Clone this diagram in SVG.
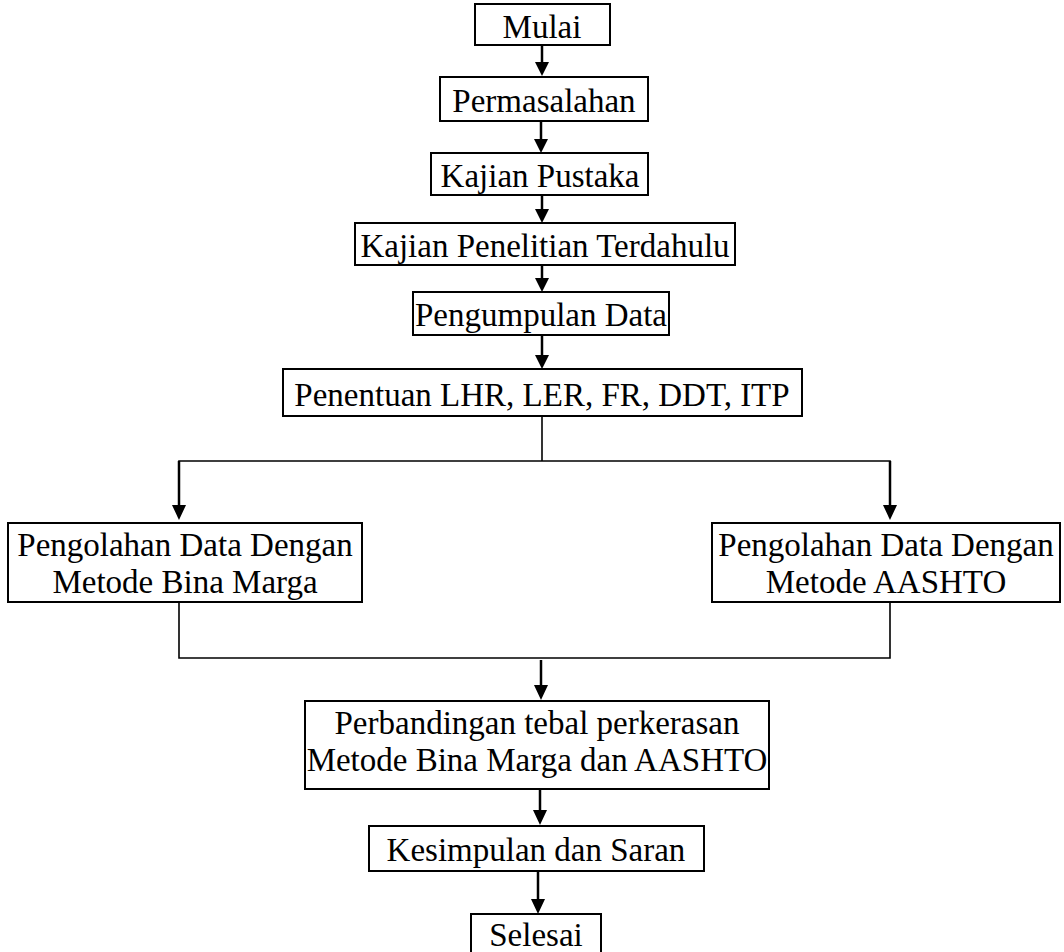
<svg xmlns="http://www.w3.org/2000/svg" width="1064" height="952" viewBox="0 0 1064 952">
<defs>
<style>
.box{fill:#fff;stroke:#000;stroke-width:2}
.t{font-family:"Liberation Serif","Times New Roman",serif;font-size:33px;fill:#000;text-anchor:middle}
.a{stroke:#000;stroke-width:2.5;fill:none}
.l{stroke:#000;stroke-width:1.6;fill:none}
.h{fill:#000}
</style>
</defs>
<rect width="1064" height="952" fill="#fff"/>
<g id="connectors">
<line class="a" x1="542" y1="45" x2="542" y2="62"/>
<path class="h" d="M535,62 L549,62 L542,76 Z"/>
<line class="a" x1="541" y1="121" x2="541" y2="139"/>
<path class="h" d="M534,139 L548,139 L541,153 Z"/>
<line class="a" x1="542" y1="195" x2="542" y2="209"/>
<path class="h" d="M535,209 L549,209 L542,223 Z"/>
<line class="a" x1="542" y1="265" x2="542" y2="278"/>
<path class="h" d="M535,278 L549,278 L542,292 Z"/>
<line class="a" x1="542" y1="335" x2="542" y2="355"/>
<path class="h" d="M535,355 L549,355 L542,369 Z"/>
<polyline class="l" points="542,416 542,461"/>
<polyline class="l" points="179,470 179,461 890,461 890,470"/>
<line class="a" x1="179" y1="461" x2="179" y2="506"/>
<path class="h" d="M172,505 L186,505 L179,520 Z"/>
<line class="a" x1="890" y1="461" x2="890" y2="506"/>
<path class="h" d="M883,505 L897,505 L890,520 Z"/>
<polyline class="l" points="179,602 179,658 890,658 890,602"/>
<line class="a" x1="541" y1="660" x2="541" y2="686"/>
<path class="h" d="M534,685 L548,685 L541,700 Z"/>
<line class="a" x1="540" y1="789" x2="540" y2="811"/>
<path class="h" d="M533,810 L547,810 L540,825 Z"/>
<line class="a" x1="538" y1="871" x2="538" y2="900"/>
<path class="h" d="M531,899 L545,899 L538,914 Z"/>
</g>
<g id="mulai"><rect class="box" x="475" y="4" width="135" height="41"/><text class="t" x="542" y="38">Mulai</text></g>
<g id="permasalahan"><rect class="box" x="440" y="77" width="208" height="44"/><text class="t" x="544" y="112">Permasalahan</text></g>
<g id="kajian-pustaka"><rect class="box" x="431" y="153" width="217" height="42"/><text class="t" x="540" y="187">Kajian Pustaka</text></g>
<g id="kajian-penelitian"><rect class="box" x="355" y="223" width="380" height="42"/><text class="t" x="545" y="257">Kajian Penelitian Terdahulu</text></g>
<g id="pengumpulan"><rect class="box" x="413" y="292" width="256" height="43"/><text class="t" x="541" y="326">Pengumpulan Data</text></g>
<g id="penentuan"><rect class="box" x="283" y="369" width="519" height="47"/><text class="t" x="542" y="406">Penentuan LHR, LER, FR, DDT, ITP</text></g>
<g id="bina-marga"><rect class="box" x="8" y="523" width="354" height="79"/><text class="t" x="185" y="556">Pengolahan Data Dengan</text><text class="t" x="185" y="593">Metode Bina Marga</text></g>
<g id="aashto"><rect class="box" x="712" y="523" width="348" height="79"/><text class="t" x="886" y="556">Pengolahan Data Dengan</text><text class="t" x="886" y="593">Metode AASHTO</text></g>
<g id="perbandingan"><rect class="box" x="305" y="701" width="464" height="88"/><text class="t" x="537" y="734">Perbandingan tebal perkerasan</text><text class="t" x="537" y="771">Metode Bina Marga dan AASHTO</text></g>
<g id="kesimpulan"><rect class="box" x="369" y="826" width="335" height="45"/><text class="t" x="536" y="861">Kesimpulan dan Saran</text></g>
<g id="selesai"><rect class="box" x="471" y="914" width="130" height="45"/><text class="t" x="536" y="946">Selesai</text></g>
</svg>
